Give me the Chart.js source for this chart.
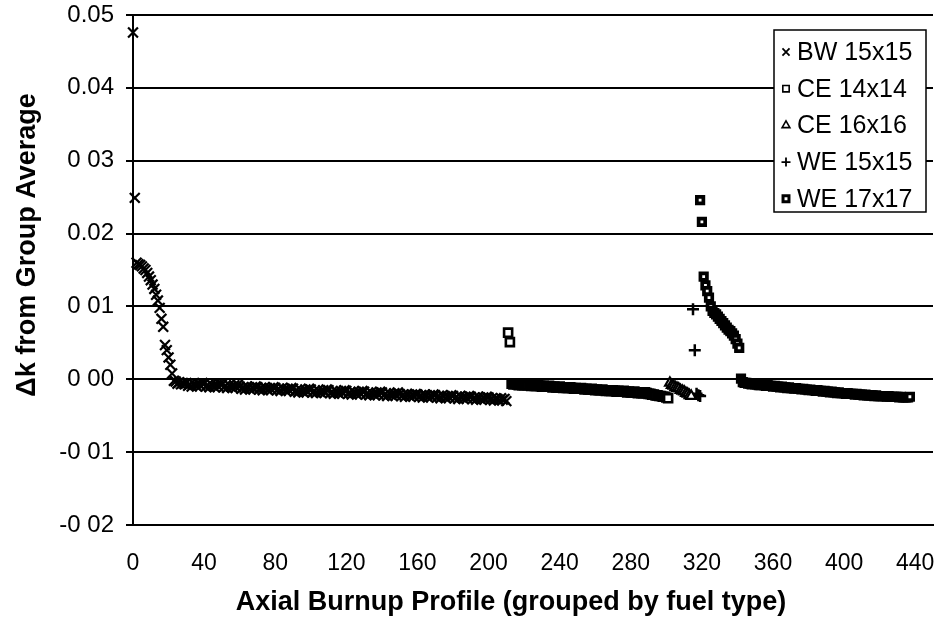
<!DOCTYPE html>
<html>
<head>
<meta charset="utf-8">
<script src="https://cdn.jsdelivr.net/npm/chart.js@4/dist/chart.umd.min.js"></script>
<style>
  body { margin: 0; background: #fff; }
  #wrap { width: 934px; height: 628px; }
</style>
</head>
<body>
<div id="wrap"><canvas id="myChart" width="934" height="628"></canvas></div>
<script>
//x ticks and y ticks as printed on the scan
const xTickValues = [0, 40, 80, 120, 160, 200, 240, 280, 320, 360, 400, 440];
const yTickValues = [-0.02, -0.01, 0, 0.01, 0.02, 0.03, 0.04, 0.05];
const yTickLabels = ["-0 02", "-0 01", "0 00", "0 01", "0.02", "0 03", "0.04", "0.05"];

const seriesLabels = ["BW 15x15", "CE 14x14", "CE 16x16", "WE 15x15", "WE 17x17"];
//first profile number of every fuel type group
const bw15Start = 0;
const ce14Start = 211;
const ce16Start = 302;
const we15Start = 315;
const we17Start = 319;

const bw15Values = [
  0.0476, 0.0249, 0.0160, 0.0158, 0.0157, 0.0155, 0.0152, 0.0150, 0.0146, 0.0141,
  0.0136, 0.0130, 0.0124, 0.0116, 0.0108, 0.0098, 0.0083, 0.0072, 0.0047, 0.0040,
  0.0030, 0.0020, 0.0008, -0.0002, -0.0003, -0.0006, -0.0004, -0.0007, -0.0005, -0.0007,
  -0.0005, -0.0009, -0.0007, -0.0010, -0.0006, -0.0008, -0.0010, -0.0006, -0.0009, -0.0005,
  -0.0006, -0.0010, -0.0008, -0.0011, -0.0007, -0.0009, -0.0011, -0.0007, -0.0010, -0.0006,
  -0.0007, -0.0011, -0.0009, -0.0012, -0.0008, -0.0010, -0.0012, -0.0008, -0.0011, -0.0007,
  -0.0010, -0.0013, -0.0011, -0.0014, -0.0010, -0.0012, -0.0014, -0.0011, -0.0013, -0.0010,
  -0.0011, -0.0014, -0.0012, -0.0015, -0.0011, -0.0013, -0.0015, -0.0012, -0.0014, -0.0011,
  -0.0012, -0.0015, -0.0013, -0.0016, -0.0012, -0.0014, -0.0016, -0.0013, -0.0015, -0.0012,
  -0.0013, -0.0017, -0.0015, -0.0018, -0.0014, -0.0016, -0.0018, -0.0014, -0.0017, -0.0013,
  -0.0014, -0.0018, -0.0016, -0.0019, -0.0015, -0.0017, -0.0019, -0.0015, -0.0018, -0.0014,
  -0.0015, -0.0019, -0.0017, -0.0020, -0.0016, -0.0018, -0.0020, -0.0016, -0.0019, -0.0015,
  -0.0016, -0.0020, -0.0018, -0.0021, -0.0017, -0.0019, -0.0021, -0.0017, -0.0020, -0.0016,
  -0.0017, -0.0021, -0.0019, -0.0022, -0.0018, -0.0020, -0.0022, -0.0018, -0.0021, -0.0017,
  -0.0018, -0.0022, -0.0020, -0.0023, -0.0019, -0.0021, -0.0023, -0.0019, -0.0022, -0.0018,
  -0.0020, -0.0023, -0.0021, -0.0024, -0.0020, -0.0022, -0.0024, -0.0021, -0.0023, -0.0020,
  -0.0021, -0.0024, -0.0022, -0.0025, -0.0021, -0.0023, -0.0025, -0.0022, -0.0024, -0.0021,
  -0.0022, -0.0025, -0.0023, -0.0026, -0.0022, -0.0024, -0.0026, -0.0023, -0.0025, -0.0022,
  -0.0023, -0.0026, -0.0024, -0.0027, -0.0023, -0.0025, -0.0027, -0.0024, -0.0026, -0.0023,
  -0.0024, -0.0027, -0.0025, -0.0028, -0.0024, -0.0026, -0.0028, -0.0025, -0.0027, -0.0024,
  -0.0025, -0.0028, -0.0026, -0.0029, -0.0026, -0.0027, -0.0029, -0.0026, -0.0028, -0.0027,
  -0.0030
];
const ce14Values = [
  0.0064, 0.0051,
  -0.0006, -0.0007, -0.0006, -0.0007, -0.0008, -0.0007, -0.0008, -0.0008, -0.0007, -0.0008,
  -0.0008, -0.0009, -0.0008, -0.0009, -0.0009, -0.0008, -0.0009, -0.0010, -0.0009, -0.0010,
  -0.0010, -0.0009, -0.0010, -0.0011, -0.0010, -0.0011, -0.0011, -0.0010, -0.0011, -0.0012,
  -0.0011, -0.0012, -0.0012, -0.0011, -0.0012, -0.0013, -0.0012, -0.0013, -0.0013, -0.0012,
  -0.0013, -0.0014, -0.0013, -0.0014, -0.0014, -0.0013, -0.0014, -0.0015, -0.0014, -0.0015,
  -0.0015, -0.0014, -0.0015, -0.0016, -0.0015, -0.0016, -0.0016, -0.0015, -0.0016, -0.0017,
  -0.0016, -0.0017, -0.0017, -0.0016, -0.0017, -0.0018, -0.0017, -0.0018, -0.0018, -0.0017,
  -0.0018, -0.0019, -0.0018, -0.0019, -0.0019, -0.0018, -0.0019, -0.0020, -0.0020, -0.0021,
  -0.0021, -0.0022, -0.0022, -0.0023, -0.0023, -0.0024, -0.0024, -0.0025, -0.0026
];
const ce16Values = [
  -0.0005, -0.0008, -0.0009, -0.0011, -0.0012, -0.0013, -0.0015, -0.0016, -0.0017, -0.0019,
  -0.0020, -0.0022, -0.0023
];
const we15Values = [0.0096, 0.0040, -0.0020, -0.0022, -0.0023];
const we17Values = [
  0.0246, 0.0216, 0.0141, 0.0129, 0.0121, 0.0112, 0.0100, 0.0094, 0.0091, 0.0089,
  0.0086, 0.0083, 0.0080, 0.0077, 0.0074, 0.0071, 0.0068, 0.0066, 0.0063, 0.0060,
  0.0055, 0.0049, 0.0043, 0.0001,
  -0.0004, -0.0005, -0.0005, -0.0006, -0.0006, -0.0007, -0.0006, -0.0007, -0.0007, -0.0008,
  -0.0008, -0.0007, -0.0008, -0.0009, -0.0008, -0.0009, -0.0009, -0.0010, -0.0009, -0.0010,
  -0.0010, -0.0011, -0.0010, -0.0011, -0.0011, -0.0012, -0.0011, -0.0012, -0.0012, -0.0013,
  -0.0012, -0.0013, -0.0013, -0.0014, -0.0013, -0.0014, -0.0014, -0.0015, -0.0014, -0.0015,
  -0.0015, -0.0016, -0.0015, -0.0016, -0.0016, -0.0017, -0.0016, -0.0017, -0.0017, -0.0018,
  -0.0017, -0.0018, -0.0018, -0.0019, -0.0018, -0.0019, -0.0019, -0.0019, -0.0020, -0.0019,
  -0.0020, -0.0020, -0.0020, -0.0021, -0.0020, -0.0021, -0.0021, -0.0021, -0.0022, -0.0021,
  -0.0022, -0.0022, -0.0022, -0.0022, -0.0023, -0.0022, -0.0023, -0.0023, -0.0023, -0.0023,
  -0.0023, -0.0024, -0.0023, -0.0024, -0.0024, -0.0024, -0.0024, -0.0024, -0.0025, -0.0024,
  -0.0025, -0.0025, -0.0025, -0.0025, -0.0024
];

const xTitle = "Axial Burnup Profile (grouped by fuel type)";
const yTitle = "\u0394k from Group Average";
const fontFamily = "'Liberation Sans', Arial, Helvetica, sans-serif";

//profile numbers are consecutive inside a group
function toPoints(start, values) {
  return values.map((v, i) => ({ x: start + i, y: v }));
}

//marker styles in the plot
const markers = [
  { pointStyle: 'crossRot', radius: 7, borderWidth: 2.2, backgroundColor: '#fff' },
  { pointStyle: 'rect', radius: 5.7, borderWidth: 2.6, backgroundColor: '#fff' },
  { pointStyle: 'triangle', radius: 5.5, borderWidth: 2.2, backgroundColor: '#fff' },
  { pointStyle: 'cross', radius: 6, borderWidth: 2.5, backgroundColor: '#fff' },
  { pointStyle: 'rect', radius: 4.6, borderWidth: 3.7, backgroundColor: '#fff' }
];
//smaller markers in the legend
const legendMarkers = [
  { radius: 5, borderWidth: 1.8 },
  { radius: 4.5, borderWidth: 1.6 },
  { radius: 4.5, borderWidth: 1.6 },
  { radius: 4.5, borderWidth: 1.8 },
  { radius: 4.2, borderWidth: 3 }
];

//legend box inside the plot, top right
const legendBox = {
  id: 'legendBox',
  afterDraw(chart) {
    const ctx = chart.ctx;
    const area = chart.chartArea;
    const left = area.right - 159, top = area.top + 15, w = 152, h = 182;
    ctx.save();
    ctx.fillStyle = '#fff';
    ctx.fillRect(left, top, w, h);
    ctx.strokeStyle = '#000';
    ctx.lineWidth = 1.5;
    ctx.strokeRect(left, top, w, h);
    ctx.textBaseline = 'middle';
    chart.data.datasets.forEach((ds, i) => {
      const y = top + 22 + i * 36.7;
      const lm = legendMarkers[i];
      ctx.strokeStyle = '#000';
      ctx.fillStyle = '#fff';
      ctx.lineWidth = lm.borderWidth;
      Chart.helpers.drawPoint(ctx, {
        pointStyle: markers[i].pointStyle,
        radius: lm.radius,
        rotation: 0,
        borderWidth: lm.borderWidth
      }, left + 12, y);
      ctx.fillStyle = '#000';
      ctx.font = "25px " + fontFamily;
      ctx.fillText(ds.label, left + 23, y + 1);
    });
    ctx.restore();
  }
};

//axis titles, drawn where the scan has them
const axisTitles = {
  id: 'axisTitles',
  afterDraw(chart) {
    const ctx = chart.ctx;
    const area = chart.chartArea;
    ctx.save();
    ctx.fillStyle = '#000';
    ctx.textAlign = 'center';
    ctx.textBaseline = 'middle';
    ctx.font = "bold 27px " + fontFamily;
    ctx.fillText(xTitle, area.left + 378, area.bottom + 78);
    ctx.translate(28, area.top + 230);
    ctx.rotate(-Math.PI / 2);
    ctx.fillText(yTitle, 0, 0);
    ctx.restore();
  }
};

function chartMake() {
  let ctx = document.getElementById('myChart').getContext('2d');
  let datasets = [
    toPoints(bw15Start, bw15Values),
    toPoints(ce14Start, ce14Values),
    toPoints(ce16Start, ce16Values),
    toPoints(we15Start, we15Values),
    toPoints(we17Start, we17Values)
  ].map((pts, i) => ({
    label: seriesLabels[i],
    data: pts,
    pointStyle: markers[i].pointStyle,
    pointRadius: markers[i].radius,
    pointBorderWidth: markers[i].borderWidth,
    pointBackgroundColor: markers[i].backgroundColor,
    pointBorderColor: '#000',
    showLine: false,
    clip: false
  }));

  new Chart(ctx, {
    type: 'scatter',
    data: { datasets: datasets },
    options: {
      responsive: false,
      animation: false,
      devicePixelRatio: 1,
      layout: { autoPadding: false, padding: { top: 15, right: 1, left: 0, bottom: 0 } },
      plugins: {
        legend: { display: false },
        tooltip: { enabled: false }
      },
      scales: {
        x: {
          type: 'linear',
          min: 0,
          max: 450,
          grid: { display: false },
          border: { display: true, color: '#000', width: 2 },
          afterBuildTicks: s => { s.ticks = xTickValues.map(v => ({ value: v })); },
          afterFit: s => { s.height = 103; s.paddingLeft = 0; s.paddingRight = 0; },
          ticks: {
            color: '#000',
            padding: 17,
            maxRotation: 0,
            font: { family: fontFamily, size: 23 }
          }
        },
        y: {
          min: -0.02,
          max: 0.05,
          grid: { color: '#000', lineWidth: 2, tickLength: 7 },
          border: { display: true, color: '#000', width: 2 },
          afterBuildTicks: s => { s.ticks = yTickValues.map(v => ({ value: v })); },
          afterFit: s => { s.width = 133; s.paddingTop = 0; s.paddingBottom = 0; },
          ticks: {
            color: '#000',
            padding: 12,
            font: { family: fontFamily, size: 24 },
            callback: (value, index) => yTickLabels[index]
          }
        }
      }
    },
    plugins: [legendBox, axisTitles]
  });
}
chartMake();
</script>
</body>
</html>
